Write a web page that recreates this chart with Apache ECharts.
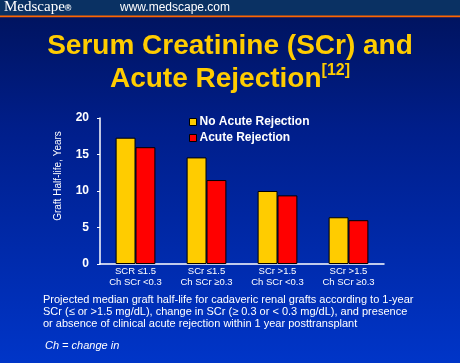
<!DOCTYPE html>
<html><head><meta charset="utf-8">
<script src="https://cdn.jsdelivr.net/npm/echarts@6/dist/echarts.min.js"></script>
<style>html,body{margin:0;padding:0;background:#001560;}#c{width:460px;height:363px;}</style>
</head><body><div id="c"></div>
<script>
const categories = ['SCR ≤1.5\nCh SCr <0.3', 'SCr ≤1.5\nCh SCr ≥0.3', 'SCr >1.5\nCh SCr <0.3', 'SCr >1.5\nCh SCr ≥0.3'];
const noAcuteRejection = [17.3, 14.6, 10.0, 6.4];
const acuteRejection = [16.0, 11.5, 9.4, 6.0];
const yTicks = [0, 5, 10, 15, 20];
const footLines = [
  'Projected median graft half-life for cadaveric renal grafts according to 1-year',
  'SCr (≤ or >1.5 mg/dL), change in SCr (≥ 0.3 or < 0.3 mg/dL), and presence',
  'or absence of clinical acute rejection within 1 year posttransplant'
];

const chart = echarts.init(document.getElementById('c'));
chart.setOption({
  backgroundColor: {type:'linear', x:0, y:0, x2:0, y2:1, colorStops:[{offset:0,color:'#00125a'},{offset:0.35,color:'#001e8a'},{offset:1,color:'#0035c8'}]},
  animation: false,
  title: {
    text: 'Serum Creatinine (SCr) and\nAcute Rejection{sup|[12]}',
    left: 'center', top: 25,
    textStyle: {
      color: '#ffcc00', fontFamily: 'Arial, Liberation Sans', fontWeight: 'bold', fontSize: 28, lineHeight: 33,
      rich: { sup: {color:'#ffcc00', fontFamily:'Arial, Liberation Sans', fontWeight:'bold', fontSize:16, verticalAlign:'top', padding:[0,0,14,0]} }
    }
  },
  legend: {
    orient: 'vertical', left: 184, top: 111, itemWidth: 7, itemHeight: 7, itemGap: 4,
    icon: 'rect',
    itemStyle: {borderColor:'#000000', borderWidth:1},
    textStyle: {color:'#ffffff', fontFamily:'Arial, Liberation Sans', fontWeight:'bold', fontSize:12, padding:[0,0,0,-2]},
    data: ['No Acute Rejection', 'Acute Rejection']
  },
  grid: {left: 100, right: 76, top: 118, bottom: 99},
  xAxis: {
    type: 'category', data: categories,
    axisLine: {lineStyle:{color:'#ffffff', width:1.5}},
    axisTick: {show:false},
    axisLabel: {color:'#ffffff', fontFamily:'Arial, Liberation Sans', fontSize:9.5, lineHeight:11, margin:2, interval:0}
  },
  yAxis: {
    type: 'value', min: yTicks[0], max: yTicks[yTicks.length-1], interval: 5,
    axisLine: {show:true, lineStyle:{color:'#ffffff', width:1.5}},
    axisTick: {show:true, length:3, lineStyle:{color:'#ffffff'}},
    splitLine: {show:false},
    axisLabel: {color:'#ffffff', fontFamily:'Arial, Liberation Sans', fontWeight:'bold', fontSize:12, margin:11}
  },
  series: [
    {name:'No Acute Rejection', type:'bar', data: noAcuteRejection, barGap:'0%', barCategoryGap:'44%',
     itemStyle:{color:'#ffcc00', borderColor:'#000000', borderWidth:1}},
    {name:'Acute Rejection', type:'bar', data: acuteRejection,
     itemStyle:{color:'#ff0000', borderColor:'#000000', borderWidth:1}}
  ],
  graphic: [
    {type:'rect', shape:{x:0,y:0,width:460,height:16}, style:{fill:'#0a3163'}, z:10},
    {type:'rect', shape:{x:0,y:15.5,width:460,height:1.8}, style:{fill:'#ff6600'}, z:10},
    {type:'text', left:4, top:0, z:11, style:{text:'Medscape{r|®}', fill:'#ffffff', font:'15px "Liberation Serif", "Times New Roman", serif',
      rich:{r:{fill:'#ffffff', fontSize:9, fontFamily:'Arial, Liberation Sans', fontWeight:'bold', padding:[3,0,0,0]}}}},
    {type:'text', left:120, top:2, z:11, style:{text:'www.medscape.com', fill:'#ffffff', font:'12px Arial, "Liberation Sans", sans-serif'}},
    {type:'text', x:58, y:176, rotation:Math.PI/2, z:11, style:{text:'Graft Half-life, Years', fill:'#ffffff', font:'10px Arial, "Liberation Sans", sans-serif', textAlign:'center', textVerticalAlign:'middle'}},
    {type:'text', left:43, top:294, z:11, style:{text: footLines.join('\n'), fill:'#ffffff', font:'11px Arial, "Liberation Sans", sans-serif', lineHeight:12}},
    {type:'text', left:45, top:340, z:11, style:{text:'Ch = change in', fill:'#ffffff', font:'italic 11px Arial, "Liberation Sans", sans-serif'}}
  ]
});
</script></body></html>
